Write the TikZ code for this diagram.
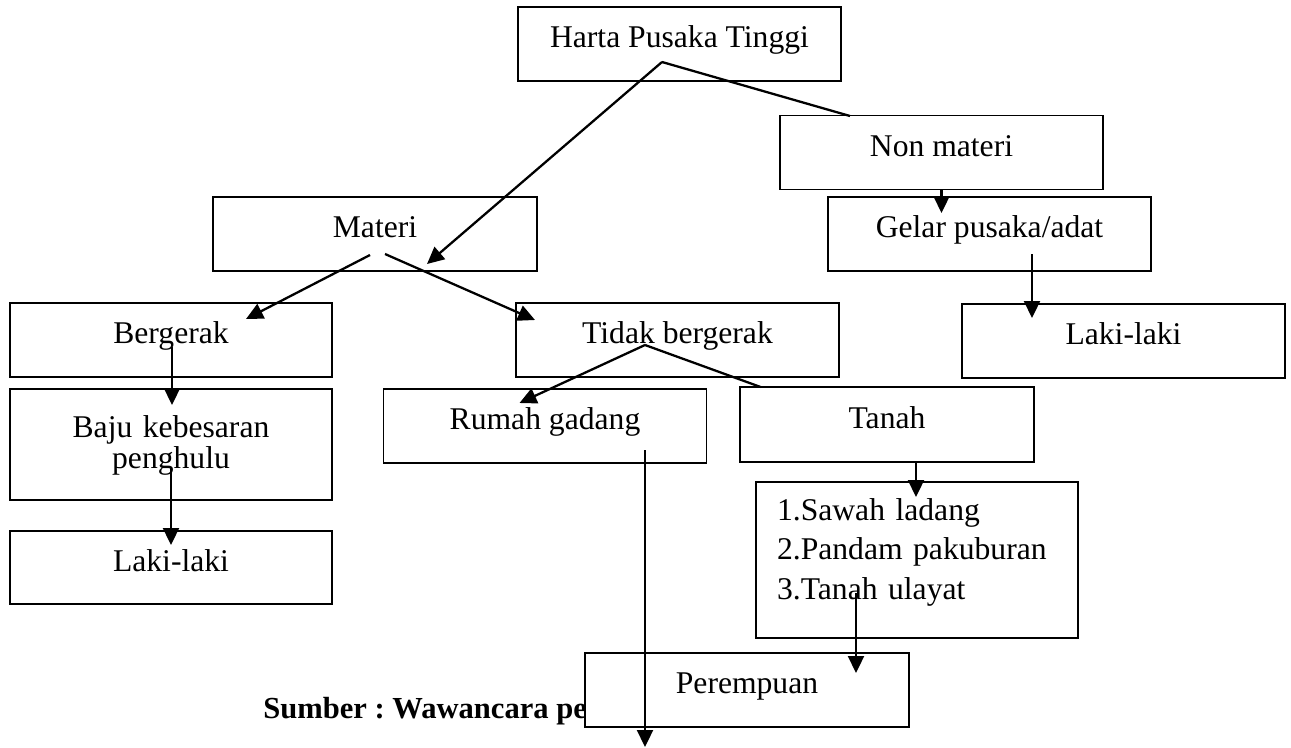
\documentclass[tikz,border=0pt]{standalone}
\usepackage{fontspec}
\setmainfont{Liberation Serif}
\usetikzlibrary{arrows.meta,positioning,calc}
\tikzset{
  box/.style={draw,line width=1pt,fill=white,inner sep=0pt,
    minimum width=6.46cm,minimum height=1.48cm,
    text height=0.45cm,text depth=0.3cm},
  arr/.style={line width=1.3pt,-{Triangle[length=0.34cm,width=0.32cm]}},
  link/.style={line width=1.3pt}
}
\frenchspacing
\begin{document}
\begin{tikzpicture}[x=0.02cm,y=-0.02cm,font=\fontsize{18}{22}\selectfont]
  \useasboundingbox (0,0) rectangle (1291,747);
  % source line, half hidden under the last box
  \node[anchor=base west,inner sep=0pt,font=\fontsize{17.4}{20}\selectfont\bfseries] (sumber) at (263,718) {Sumber : Wawancara pe};
  % top
  \node[box] (harta) at (679.5,44) {Harta Pusaka Tinggi};
  \node[box] (nonmateri) at (941.5,152.5) {Non materi};
  \node[box] (gelar) at (989.5,234) {Gelar pusaka/adat};
  \node[box] (lakiR) at (1123.5,341) {Laki-laki};
  \node[box,minimum width=6.48cm] (materi) at (375,234) {Materi};
  % bergerak branch
  \node[box,minimum width=6.44cm] (bergerak) at (171,340) {Bergerak};
  \node[box,minimum width=6.44cm,minimum height=2.22cm,text width=6.44cm,align=center,
    font=\fontsize{18}{18}\selectfont,text height=0.45cm,text depth=0.75cm] (baju) at (171,444.5) {Baju kebesaran\\penghulu};
  \node[box,minimum width=6.44cm,minimum height=1.46cm] (lakiL) at (171,567.5) {Laki-laki};
  % tidak bergerak branch
  \node[box] (tidak) at (677.5,340) {Tidak bergerak};
  \node[box] (rumah) at (545,426) {Rumah gadang};
  \node[box,minimum width=5.88cm,minimum height=1.5cm] (tanah) at (887,424.5) {Tanah};
  \node[box,minimum width=6.44cm,minimum height=3.12cm,text width=5.6cm,align=left,
    font=\fontsize{18}{22.7}\selectfont,text height=0.4cm,text depth=2.0cm] (list) at (917,560) {1.Sawah ladang\\2.Pandam pakuburan\\3.Tanah ulayat};
  \node[box,minimum width=6.48cm] (perempuan) at (747,690) {Perempuan};
  % connector ends
  \coordinate (hartaJ) at (662,62);
  \coordinate (materiIn) at (427,264);
  \coordinate (nonmateriIn) at (850,116);
  \coordinate (gelarIn) at (941.5,213);
  \coordinate (gelarJ) at (1032,254);
  \coordinate (lakiRIn) at (1032,318);
  \coordinate (materiL) at (370,255);
  \coordinate (materiR) at (385,254);
  \coordinate (bergerakIn) at (246,319);
  \coordinate (tidakIn) at (535,320);
  \coordinate (tidakJ) at (645,345);
  \coordinate (rumahIn) at (519.5,403);
  \coordinate (tanahIn) at (760.6,387);
  \coordinate (bergerakJ) at (172,347);
  \coordinate (bajuIn) at (172,405);
  \coordinate (bajuJ) at (171,468);
  \coordinate (lakiLIn) at (171,545);
  \coordinate (tanahJ) at (916,462);
  \coordinate (listIn) at (916,497);
  \coordinate (listJ) at (856,593);
  \coordinate (perempuanIn) at (856,673);
  \coordinate (rumahJ) at (645,450);
  \coordinate (rumahOut) at (645,747);
  % connectors
  \draw[arr] (hartaJ) -- (materiIn);
  \draw[link] (hartaJ) -- (nonmateriIn);
  \draw[arr] (nonmateri.south) -- (gelarIn);
  \draw[arr] (gelarJ) -- (lakiRIn);
  \draw[arr] (materiL) -- (bergerakIn);
  \draw[arr] (materiR) -- (tidakIn);
  \draw[arr] (tidakJ) -- (rumahIn);
  \draw[link] (tidakJ) -- (tanahIn);
  \draw[arr] (bergerakJ) -- (bajuIn);
  \draw[arr] (bajuJ) -- (lakiLIn);
  \draw[arr] (tanahJ) -- (listIn);
  \draw[arr] (listJ) -- (perempuanIn);
  \draw[arr] (rumahJ) -- (rumahOut);
\end{tikzpicture}
\end{document}
